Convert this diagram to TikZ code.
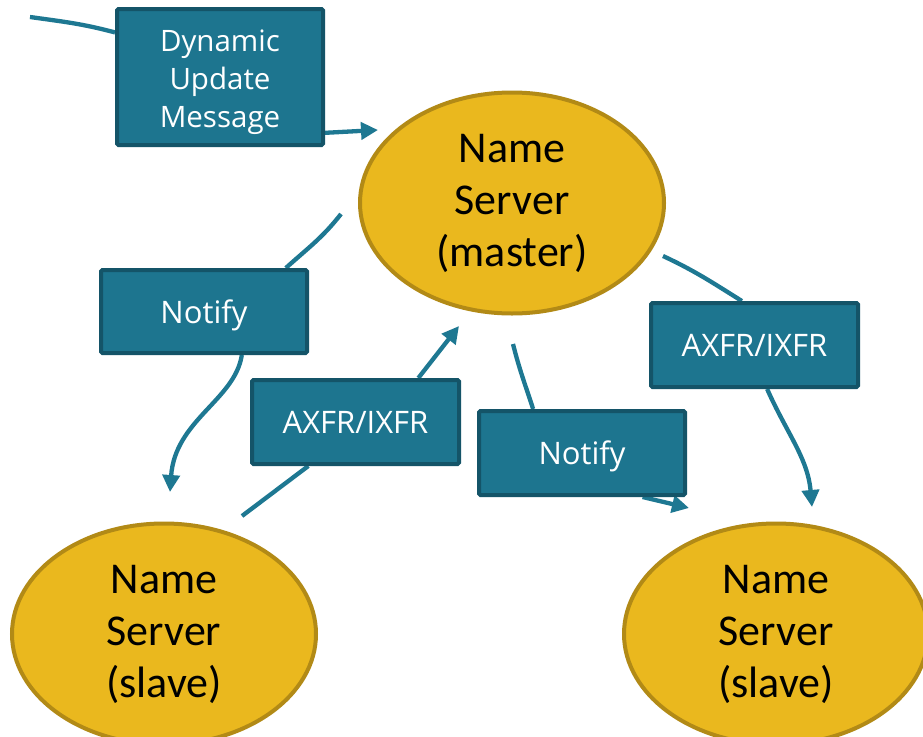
\documentclass[tikz,border=0pt]{standalone}
\usepackage{fontspec}
\newfontfamily\boxfont{Open Sans}
\newfontfamily\nsfont{Carlito}
\usetikzlibrary{arrows.meta,shapes.geometric}
\definecolor{boxfill}{RGB}{29,117,143}
\definecolor{boxline}{RGB}{20,84,104}
\definecolor{conn}{RGB}{30,120,146}
\definecolor{goldfill}{RGB}{234,184,30}
\definecolor{goldline}{RGB}{178,138,22}
\pgfdeclarelayer{bg}
\pgfsetlayers{bg,main}
\begin{document}
\begin{tikzpicture}[x=1pt,y=-1pt,
  msgbox/.style={draw=boxline, fill=boxfill, line width=4pt, rounded corners=1.5pt,
    text=white, align=center, inner sep=0pt,
    font=\boxfont\fontsize{31}{38}\selectfont},
  oneline/.style={text height=23pt, text depth=0pt},
  server/.style={ellipse, draw=goldline, fill=goldfill, line width=4pt,
    minimum width=304pt, minimum height=221pt, inner sep=0pt, align=center,
    font=\nsfont\fontsize{44}{52}\selectfont},
  conline/.style={draw=conn, line width=4.3pt},
  conarrow/.style={conline, -{Triangle[length=17pt,width=17pt]}}]
\useasboundingbox (0,0) rectangle (923,736);
\clip (0,0) rectangle (923,736);

% servers
\node[server] (master) at (512,203) {Name\\Server\\(master)};
\node[server] (slaveL) at (164,634) {Name\\Server\\(slave)};
\node[server] (slaveR) at (776,634) {Name\\Server\\(slave)};

% message boxes
\node[msgbox, minimum width=206pt, minimum height=136pt, text height=100pt, text depth=0pt,
  font=\boxfont\fontsize{29.5}{38}\selectfont] (dum) at (220,77) {Dynamic\\Update\\Message};
\node[msgbox, oneline, minimum width=206pt, minimum height=83pt] (notL) at (204,311.5) {Notify};
\node[msgbox, oneline, minimum width=207pt, minimum height=84pt] (axL) at (355.5,422) {AXFR/IXFR};
\node[msgbox, oneline, minimum width=207pt, minimum height=84pt] (axR) at (754.5,345) {AXFR/IXFR};
\node[msgbox, oneline, minimum width=206pt, minimum height=84pt] (notR) at (582,453) {Notify};

% free ends
\coordinate (in0) at (30,17);
\coordinate (tip1) at (378,130);
\coordinate (s2) at (341,214);
\coordinate (tip2) at (170,492);
\coordinate (s3) at (242,516);
\coordinate (tip3) at (459,326);
\coordinate (s4) at (513,344);
\coordinate (tip4) at (689,508);
\coordinate (s5) at (663,256);
\coordinate (tip5) at (812,507);

\begin{pgfonlayer}{bg}
  \fill[white] (0,0) rectangle (923,736);
  % dynamic update
  \draw[conline] (in0) to[out=-8,in=165] (dum.157);
  \draw[conarrow] (dum.332) -- (tip1);
  % notify to left slave
  \draw[conline] (s2) to[out=-128,in=42] (notL.28);
  \draw[conarrow] (notL.311) .. controls (235,400) and (175,420) .. (tip2);
  % axfr from left slave
  \draw[conline] (s3) -- (axL.223);
  \draw[conarrow] (axL.35) -- (tip3);
  % notify to right slave
  \draw[conline] (s4) to[out=-76,in=108] (notR.138);
  \draw[conarrow] (notR.324) -- (tip4);
  % axfr to right slave
  \draw[conline] (s5) to[out=-25,in=148] (axR.106);
  \draw[conarrow] (axR.286) to[out=-66,in=95] (tip5);
\end{pgfonlayer}
\end{tikzpicture}
\end{document}
